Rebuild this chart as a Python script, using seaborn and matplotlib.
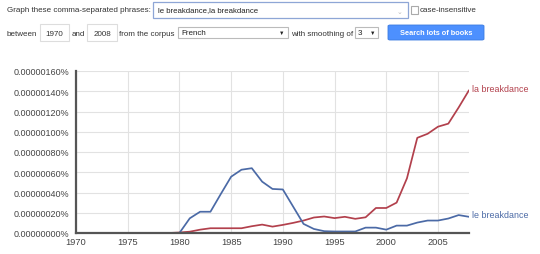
import matplotlib
matplotlib.use("Agg")
import matplotlib.pyplot as plt
from matplotlib.patches import Rectangle, FancyBboxPatch
import seaborn as sns
import pandas as pd

# ---- data (values in units of 1e-8 %) ----
years = list(range(1970, 2009))
le_breakdance = [0, 0, 0, 0, 0, 0, 0, 0, 0, 0,
                 0, 14.5, 21, 21, 38.5, 55.6, 62.5, 64, 50.7, 43.5,
                 43, 26, 9, 4, 1.8, 1.5, 1.5, 1.5, 5.3, 5.3,
                 3.3, 7.3, 7.3, 10.3, 12.3, 12.3, 14.3, 17.7, 16]
la_breakdance = [0, 0, 0, 0, 0, 0, 0, 0, 0, 0,
                 0.5, 1.3, 3.3, 4.7, 4.7, 4.7, 4.7, 6.7, 8.3, 6.3,
                 8, 10, 12.3, 15.3, 16.3, 14.7, 16, 14, 15.5, 24.7,
                 24.7, 30, 54, 94, 98, 105, 108, 124, 141]
series_names = ["le breakdance", "la breakdance"]
series_colors = ["#4b6aa6", "#b2404c"]
y_ticks = [0, 20, 40, 60, 80, 100, 120, 140, 160]
x_ticks = [1970, 1975, 1980, 1985, 1990, 1995, 2000, 2005]

df = pd.concat([
    pd.DataFrame({"year": years, "value": le_breakdance, "phrase": series_names[0]}),
    pd.DataFrame({"year": years, "value": la_breakdance, "phrase": series_names[1]}),
])

sns.set_style("white")
plt.rcParams["font.family"] = ["Liberation Sans", "DejaVu Sans"]

W, H = 540, 255
fig = plt.figure(figsize=(W / 100, H / 100), dpi=100)
fig.patch.set_facecolor("white")


def fx(x):
    return x / W


def fy(y):
    return 1 - y / H


def rect(x0, y0, x1, y1, ec="#c8c8c8", fc="white", lw=0.8):
    fig.patches.append(Rectangle((fx(x0), fy(y1)), fx(x1) - fx(x0), fy(y0) - fy(y1),
                                 transform=fig.transFigure, ec=ec, fc=fc, lw=lw))


def txt(x, y, s, size=5.8, color="#333333", ha="left", **kw):
    fig.text(fx(x), fy(y), s, fontsize=size, color=color, ha=ha, va="center", **kw)


# ---- top UI row 1 ----
txt(7, 11, "Graph these comma-separated phrases:")
rect(153, 3, 408, 19, ec="#8ea6d6", lw=0.9)
txt(158, 11, "le breakdance,la breakdance", color="#222222", size=5.6)
txt(399, 12, "\u2304", size=5, color="#bbbbbb", ha="center")
rect(411, 7, 418, 15, ec="#aaaaaa")
txt(420, 11, "case-insensitive")

# ---- top UI row 2 ----
txt(7, 34, "between")
rect(40, 25, 69, 42, ec="#dddddd")
txt(54.5, 34, "1970", ha="center")
txt(72, 34, "and")
rect(87, 25, 117, 42, ec="#dddddd")
txt(102, 34, "2008", ha="center")
txt(119, 34, "from the corpus")
rect(178, 28, 288, 39, ec="#bbbbbb")
txt(181, 33.5, "French", color="#222222")
txt(282, 33.5, "\u25bc", size=4, color="#222222", ha="center")
txt(291, 34, "with smoothing of")
rect(355, 28, 378, 39, ec="#bbbbbb")
txt(358, 33.5, "3", color="#222222")
txt(373, 33.5, "\u25bc", size=4, color="#222222", ha="center")
fig.patches.append(FancyBboxPatch((fx(388), fy(41)), fx(484) - fx(388), fy(26) - fy(41),
                                  boxstyle="round,pad=0,rounding_size=0.004",
                                  transform=fig.transFigure, ec="#3b7be0", fc="#4d90fe", lw=0.6))
txt(436, 33.5, "Search lots of books", color="white", ha="center", weight="bold", size=5.3)

# ---- chart ----
ax = fig.add_axes([fx(76), fy(234), fx(469) - fx(76), fy(72) - fy(234)])
sns.lineplot(data=df, x="year", y="value", hue="phrase", palette=dict(zip(series_names, series_colors)),
             hue_order=series_names[::-1], linewidth=1.25, ax=ax, legend=False)

ax.set_xlim(1970, 2008)
ax.set_ylim(0, 160)
ax.set_xticks(x_ticks)
ax.set_yticks(y_ticks)
ax.set_yticklabels([f"{t * 1e-8:.8f}%" for t in y_ticks])
ax.set_xlabel("")
ax.set_ylabel("")
ax.grid(True, color="#e2e2e2", linewidth=0.8)
ax.set_axisbelow(True)
for s in ["top", "right"]:
    ax.spines[s].set_visible(False)
for s in ["left", "bottom"]:
    ax.spines[s].set_color("#555555")
    ax.spines[s].set_linewidth(1.6)
ax.tick_params(axis="y", length=4, width=0.8, color="#555555", labelsize=6.5, labelcolor="#444444", pad=1)
ax.tick_params(axis="x", length=2, width=0.8, color="#555555", labelsize=6.7, labelcolor="#444444", pad=1)

ax.annotate("la breakdance", xy=(2008, la_breakdance[-1]), xytext=(3, 2), textcoords="offset pixels",
            fontsize=6.4, color=series_colors[1], va="center", ha="left", annotation_clip=False)
ax.annotate("le breakdance", xy=(2008, le_breakdance[-1]), xytext=(3, 2), textcoords="offset pixels",
            fontsize=6.4, color=series_colors[0], va="center", ha="left", annotation_clip=False)

fig.savefig("out.png", dpi=100, facecolor="white")
